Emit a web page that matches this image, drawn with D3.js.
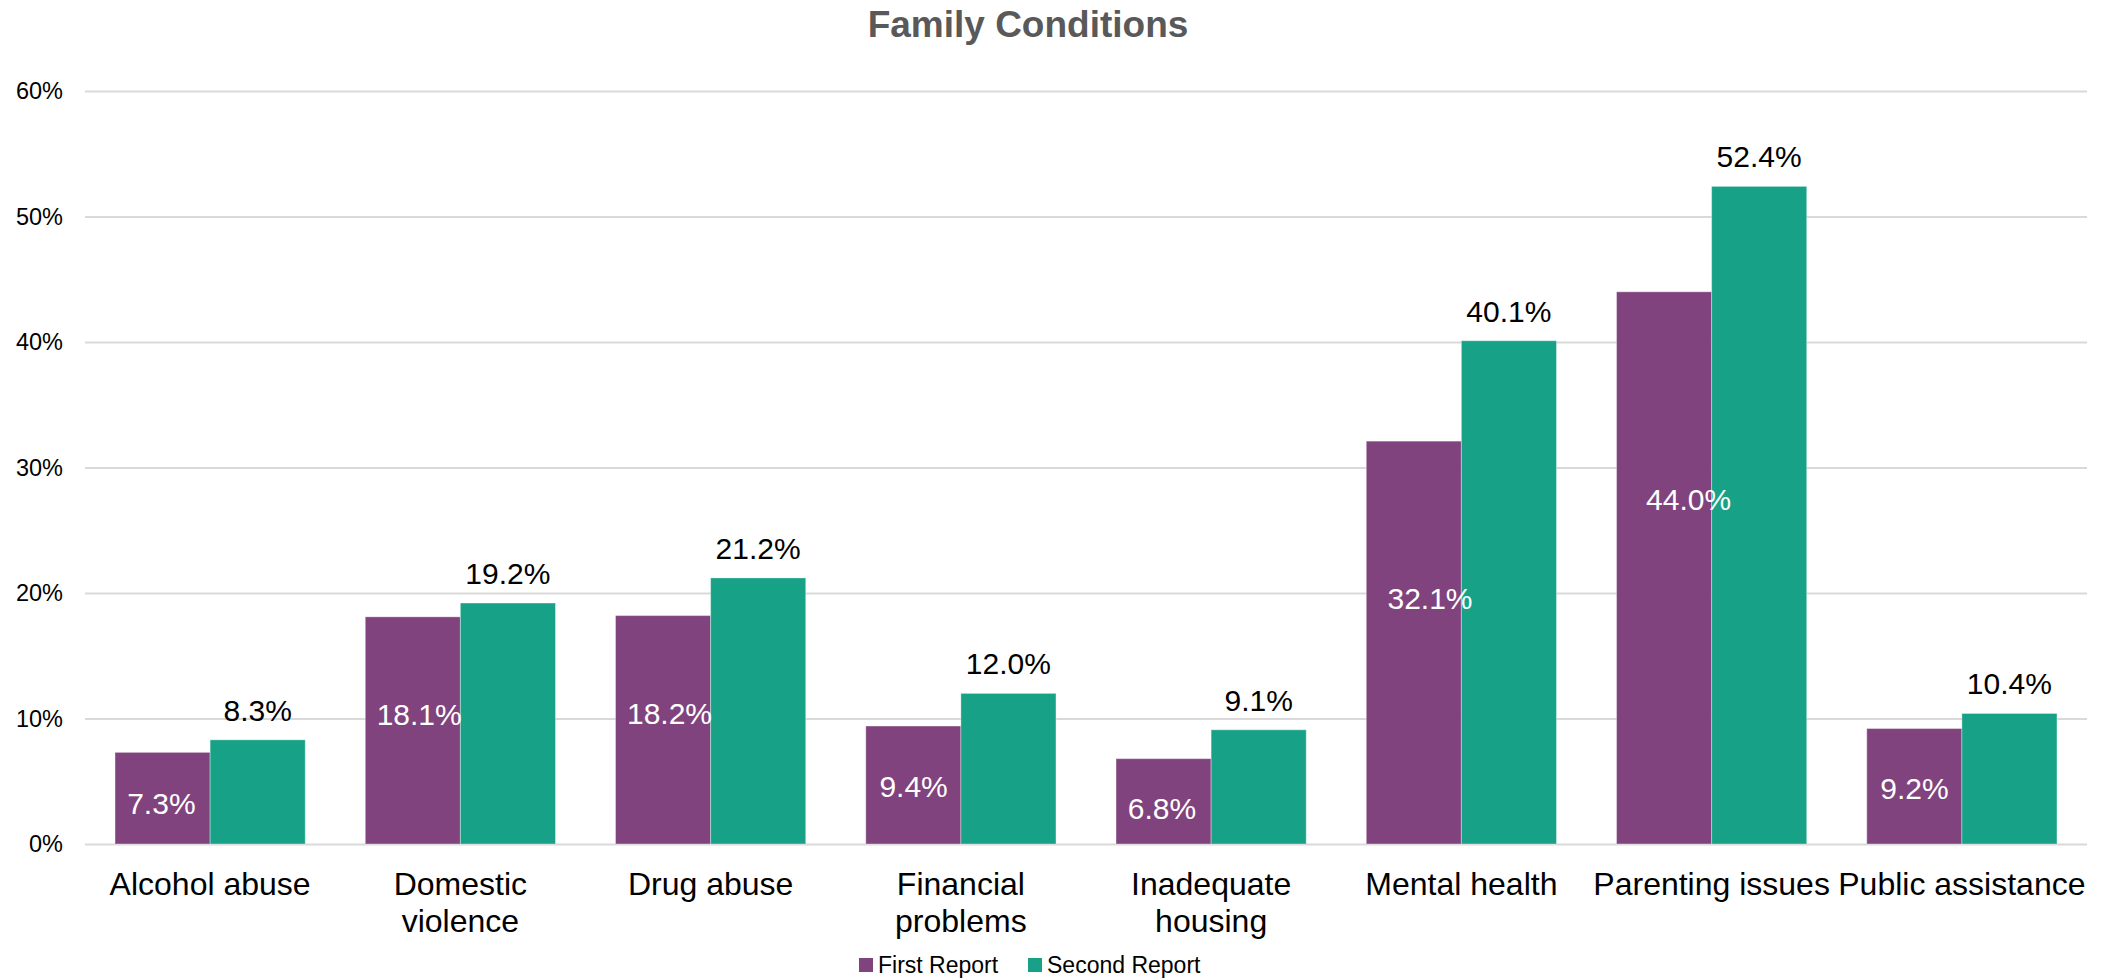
<!DOCTYPE html>
<html>
<head>
<meta charset="utf-8">
<script src="https://cdn.jsdelivr.net/npm/d3@7"></script>
<style>
  html, body { margin: 0; padding: 0; background: #fff; }
  svg { display: block; font-family: "Liberation Sans", Arial, sans-serif; }
</style>
</head>
<body>
<svg id="chart" width="2107" height="980"></svg>
<script>
// Family conditions reported at first and second report (percent of cases)
const categories = [
  "Alcohol abuse", "Domestic violence", "Drug abuse", "Financial problems",
  "Inadequate housing", "Mental health", "Parenting issues", "Public assistance"
];
const seriesNames = ["First Report", "Second Report"];
const firstReport  = [7.3, 18.1, 18.2, 9.4, 6.8, 32.1, 44.0, 9.2];
const secondReport = [8.3, 19.2, 21.2, 12.0, 9.1, 40.1, 52.4, 10.4];
const yTicks = [0, 10, 20, 30, 40, 50, 60];
const chartTitle = "Family Conditions";

const colors = ["#80437e", "#17a186"];

const W = 2107, H = 980;
const margin = { left: 85, right: 20, top: 91, bottom: 136 };

const svg = d3.select("#chart");

const x0 = d3.scaleBand()
  .domain(categories)
  .range([margin.left, W - margin.right])
  .paddingInner(0.24)
  .paddingOuter(0.12);

const x1 = d3.scaleBand()
  .domain(seriesNames)
  .range([0, x0.bandwidth()]);

const y = d3.scaleLinear()
  .domain([0, 60])
  .range([H - margin.bottom, margin.top]);

// title
svg.append("text")
  .attr("x", 1028)
  .attr("y", 37)
  .attr("text-anchor", "middle")
  .attr("font-size", 37)
  .attr("font-weight", "bold")
  .attr("fill", "#595959")
  .text(chartTitle);

// horizontal gridlines + y tick labels
const yAxis = d3.axisLeft(y)
  .tickValues(yTicks)
  .tickSize(-(W - margin.right - margin.left))
  .tickPadding(22)
  .tickFormat(d => d + "%");

svg.append("g")
  .attr("transform", `translate(${margin.left},0)`)
  .call(yAxis)
  .call(g => g.select(".domain").remove())
  .call(g => g.selectAll(".tick line").attr("stroke", "#d9d9d9").attr("stroke-width", 2))
  .call(g => g.selectAll(".tick text")
    .attr("font-size", 23.5)
    .attr("fill", "#000")
    .attr("font-family", "\"Liberation Sans\", Arial, sans-serif"));

// bars
const rows = categories.map((c, i) => ({ cat: c, vals: [firstReport[i], secondReport[i]] }));

const groups = svg.append("g").selectAll("g")
  .data(rows)
  .join("g")
  .attr("transform", d => `translate(${x0(d.cat)},0)`);

groups.selectAll("rect")
  .data(d => d.vals.map((v, k) => ({ key: seriesNames[k], v, k })))
  .join("rect")
  .attr("x", d => x1(d.key))
  .attr("width", x1.bandwidth())
  .attr("y", d => y(d.v))
  .attr("height", d => y(0) - y(d.v))
  .attr("fill", d => colors[d.k])
  .attr("stroke", "#ffffff")
  .attr("stroke-opacity", 0.35)
  .attr("stroke-width", 1);

// first-series labels, white, inside the bar
groups.append("text")
  .attr("x", d => x1(seriesNames[0]) + x1.bandwidth() / 2 + 0.7 * (d.vals[0] - 9))
  .attr("y", d => y(0.66 * d.vals[0] - 1.6))
  .attr("dy", "0.36em")
  .attr("text-anchor", "middle")
  .attr("font-size", 30)
  .attr("fill", "#ffffff")
  .text(d => d.vals[0].toFixed(1) + "%");

// second-series labels, black, above the bar
groups.append("text")
  .attr("x", d => x1(seriesNames[1]) + x1.bandwidth() / 2)
  .attr("y", d => y(d.vals[1]) - 30)
  .attr("dy", "0.36em")
  .attr("text-anchor", "middle")
  .attr("font-size", 30)
  .attr("fill", "#000000")
  .text(d => d.vals[1].toFixed(1) + "%");

// category labels, wrapped to the band step
const step = x0.step();
const catG = svg.append("g");
categories.forEach(c => {
  const cx = x0(c) + x0.bandwidth() / 2;
  const t = catG.append("text")
    .attr("x", cx)
    .attr("y", 895)
    .attr("text-anchor", "middle")
    .attr("font-size", 32)
    .attr("fill", "#000");
  const words = c.split(" ");
  let line = [];
  let tspan = t.append("tspan").attr("x", cx).attr("dy", 0);
  words.forEach(w => {
    line.push(w);
    tspan.text(line.join(" "));
    if (tspan.node().getComputedTextLength() > step && line.length > 1) {
      line.pop();
      tspan.text(line.join(" "));
      line = [w];
      tspan = t.append("tspan").attr("x", cx).attr("dy", "1.17em").text(w);
    }
  });
});

// legend
const legend = svg.append("g").attr("transform", "translate(0,965)");
const legendX = [859, 1028];
seriesNames.forEach((s, k) => {
  legend.append("rect")
    .attr("x", legendX[k])
    .attr("y", -7)
    .attr("width", 14)
    .attr("height", 14)
    .attr("fill", colors[k]);
  legend.append("text")
    .attr("x", legendX[k] + 19)
    .attr("y", 0)
    .attr("dy", "0.36em")
    .attr("font-size", 23)
    .attr("fill", "#000")
    .text(s);
});
</script>
</body>
</html>
